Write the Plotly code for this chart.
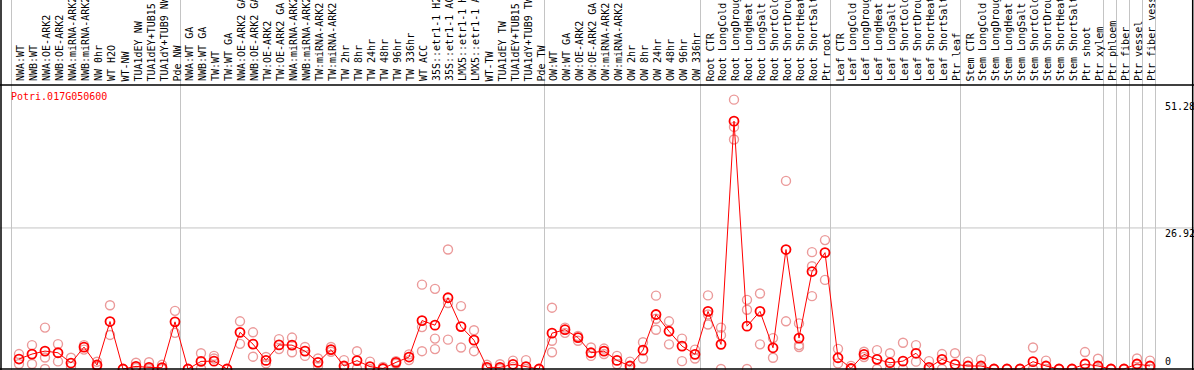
import plotly.graph_objects as go

gene = "Potri.017G050600"

categories = [
    "NWA:WT", "NWB:WT", "NWA:OE-ARK2", "NWB:OE-ARK2", "NWA:miRNA-ARK2", "NWB:miRNA-ARK2",
    "NW 0hr", "WT H2O", "WT-NW", "TUA1dEY NW", "TUA1dEY+TUB15 NW", "TUA1dY+TUB9 NW", "Pde NW",
    "NWA:WT GA", "NWB:WT GA", "TW:WT", "TW:WT GA", "NWA:OE-ARK2 GA", "NWB:OE-ARK2 GA",
    "TW:OE-ARK2", "TW:OE-ARK2 GA", "NWA:miRNA-ARK2 GA", "NWB:miRNA-ARK2 GA", "TW:miRNA-ARK2",
    "TW:miRNA-ARK2 GA", "TW 2hr", "TW 8hr", "TW 24hr", "TW 48hr", "TW 96hr", "TW 336hr",
    "WT ACC", "35S::etr1-1 H2O", "35S::etr1-1 ACC", "LMX5::etr1-1 H2O", "LMX5::etr1-1 ACC",
    "WT-TW", "TUA1dEY TW", "TUA1dEY+TUB15 TW", "TUA1dY+TUB9 TW", "Pde TW",
    "OW:WT", "OW:WT GA", "OW:OE-ARK2", "OW:OE-ARK2 GA", "OW:miRNA-ARK2", "OW:miRNA-ARK2 GA",
    "OW 2hr", "OW 8hr", "OW 24hr", "OW 48hr", "OW 96hr", "OW 336hr",
    "Root CTR", "Root LongCold", "Root LongDrought", "Root LongHeat", "Root LongSalt",
    "Root ShortCold", "Root ShortDrought", "Root ShortHeat", "Root ShortSalt", "Ptr root",
    "Leaf CTR", "Leaf LongCold", "Leaf LongDrought", "Leaf LongHeat", "Leaf LongSalt",
    "Leaf ShortCold", "Leaf ShortDrought", "Leaf ShortHeat", "Leaf ShortSalt", "Ptr leaf",
    "Stem CTR", "Stem LongCold", "Stem LongDrought", "Stem LongHeat", "Stem LongSalt",
    "Stem ShortCold", "Stem ShortDrought", "Stem ShortHeat", "Stem ShortSalt", "Ptr shoot",
    "Ptr xylem", "Ptr phloem", "Ptr fiber", "Ptr vessel", "Ptr fiber vessel",
]

mean_values = [
    1.9, 2.85, 3.42, 3.1, 1.14, 4.18, 0.76, 9.06, 0.0, 0.5, 0.3, 0.25, 9.0,
    0.0, 1.45, 1.5, 0.0, 7.0, 4.75, 1.64, 4.6, 4.56, 3.42, 1.27, 3.7, 0.57, 1.6, 0.45,
    0.1, 1.27, 2.28, 9.24, 8.36, 13.6, 8.1, 5.5, 0.3, 0.3, 0.9, 0.45, 0.0,
    6.84, 7.5, 6.0, 3.1, 3.42, 1.64, 0.57, 3.6, 10.4, 7.2, 4.37, 2.8,
    11.0, 4.7, 47.3, 8.17, 11.0, 4.05, 22.8, 5.9, 18.6, 22.2,
    2.15, 0.1, 2.8, 1.84, 1.2, 1.5, 3.0, 0.3, 1.84, 0.9,
    0.57, 0.57, 0.0, 0.0, 0.0, 1.4, 0.57, 0.0, 0.0, 0.95,
    0.57, 0.0, 0.0, 0.95, 0.57,
]

rep1 = [
    2.85, 4.56, 7.9, 4.75, 2.15, 4.56, 1.39, 12.16, 0.0, 1.2, 1.3, 0.8, 11.1,
    0.0, 3.0, 2.5, 0.0, 9.1, 7.0, 2.3, 5.7, 6.0, 4.2, 2.0, 4.2, 1.7, 3.4, 1.4,
    0.4, 1.5, 2.8, 16.1, 15.3, 22.8, 12.0, 7.4, 0.8, 0.9, 1.6, 1.7, 0.0,
    11.7, 7.9, 6.3, 4.1, 3.9, 2.5, 1.4, 5.1, 14.0, 9.1, 5.8, 3.7,
    14.05, 7.9, 51.4, 13.2, 14.4, 5.9, 35.9, 8.7, 22.3, 24.6,
    3.85, 0.6, 3.3, 3.6, 3.0, 5.0, 4.56, 1.5, 2.85, 3.0,
    1.4, 1.84, 0.0, 0.0, 0.0, 4.1, 1.6, 0.0, 0.0, 3.23,
    1.97, 0.0, 0.0, 2.0, 1.6,
]

rep2 = [
    0.95, 0.95, 2.2, 1.45, 0.45, 3.7, 0.44, 6.5, None, 0.2, 0.0, 0.0, 6.9,
    None, 0.1, 2.0, None, 4.8, 2.35, 1.07, 3.8, 3.2, 2.5, 0.57, 3.3, 0.0, 0.1, 0.0,
    0.0, 1.0, 1.7, 8.0, 5.8, 12.6, 4.1, 3.4, 0.0, 0.0, 0.4, 0.0, None,
    5.4, 6.9, 5.4, 2.5, 2.85, 0.9, 0.0, 2.0, 9.6, 4.7, 1.5, 2.0,
    10.4, 6.46, 46.2, 11.3, 4.7, 2.15, 9.1, 4.56, 19.6, 17.0,
    1.07, 0.0, 2.3, 0.0, 0.0, 0.0, 1.4, 0.0, 0.0, 0.0,
    0.0, 0.0, None, None, None, 0.0, 0.0, None, None, 0.0,
    0.0, None, None, 0.0, 0.0,
]

rep3 = [
    None, None, 0.0, None, None, None, None, None, None, None, None, None, None,
    None, None, None, None, None, None, None, None, None, None, None, None, None, None, None,
    None, None, None, 3.4, 3.8, 5.6, None, None, None, None, None, None, None,
    3.2, None, None, None, None, None, None, None, 7.5, None, None, None,
    8.5, 0.0, 43.8, 0.0, None, None, None, 4.2, 13.9, None,
    None, None, None, None, None, None, None, None, None, None,
    None, None, None, None, None, None, None, None, None, None,
    None, None, None, None, None,
]

group_starts = [0, 13, 41, 53, 63, 73, 84, 85, 86, 87, 88]
axis_labels = ["51.28", "26.92", "0"]
axis_label_values = [51.28, 26.92, 0.0]
grid_values = [26.92]

MONO = "DejaVu Sans Mono"
RED = "#ff0000"
PINK = "#eb9a9a"
GRAY = "#c4c4c4"

n = len(categories)
xs = list(range(n))

rx, ry = [], []
for reps in (rep1, rep2, rep3):
    for i, v in enumerate(reps):
        if v is not None:
            rx.append(i)
            ry.append(v)

fig = go.Figure()
fig.add_trace(go.Scatter(
    x=rx, y=ry, mode="markers",
    marker=dict(symbol="circle-open", size=9, color=PINK, line=dict(width=1.4, color=PINK)),
    hoverinfo="skip", showlegend=False,
))
fig.add_trace(go.Scatter(
    x=xs, y=mean_values, mode="lines+markers",
    line=dict(color=RED, width=1),
    marker=dict(symbol="circle-open", size=9, color=RED, line=dict(width=1.8, color=RED)),
    showlegend=False,
))

W, H = 1194, 370
px_per_cat = 13.0
x0_px = 19.0
xr = [-x0_px / px_per_cat, (W - x0_px) / px_per_cat]
y_zero_px = 369.0
px_per_unit = 5.24
yr = [-(H - y_zero_px) / px_per_unit, y_zero_px / px_per_unit]

shapes = []
for b in group_starts:
    shapes.append(dict(type="line", xref="x", yref="paper", x0=b - 7.5 / 13, x1=b - 7.5 / 13,
                       y0=0, y1=1, line=dict(color=GRAY, width=1), layer="below"))
for g in grid_values:
    shapes.append(dict(type="line", xref="paper", yref="y", x0=0, x1=1, y0=g, y1=g,
                       line=dict(color=GRAY, width=1), layer="below"))
top_line = 1 - 85.0 / H
shapes.append(dict(type="line", xref="paper", yref="paper", x0=0, x1=1, y0=top_line, y1=top_line,
                   line=dict(color="black", width=1.3)))
shapes.append(dict(type="line", xref="paper", yref="y", x0=0, x1=1, y0=0, y1=0,
                   line=dict(color="black", width=1.5)))
shapes.append(dict(type="line", xref="paper", yref="paper", x0=1.0 / W, x1=1.0 / W, y0=0, y1=1,
                   line=dict(color="black", width=1.5)))
shapes.append(dict(type="line", xref="paper", yref="paper", x0=1192.7 / W, x1=1192.7 / W, y0=0, y1=1,
                   line=dict(color="black", width=1.5)))

annotations = []
label_bottom = 1 - 83.5 / H
for i, c in enumerate(categories):
    annotations.append(dict(
        x=i, y=label_bottom, xref="x", yref="paper", text=c, textangle=-90,
        showarrow=False, xanchor="center", yanchor="bottom", xshift=1.5,
        font=dict(family=MONO, size=10, color="black"),
    ))
annotations.append(dict(
    x=9.0 / W, y=1 - 96.7 / H, xref="paper", yref="paper", text=gene, showarrow=False,
    xanchor="left", yanchor="middle", font=dict(family=MONO, size=10, color=RED),
))
for lab, v in zip(axis_labels, axis_label_values):
    annotations.append(dict(
        x=1163.0 / W, y=v, xref="paper", yref="y", text=lab, showarrow=False,
        xanchor="left", yanchor="bottom" if v == 0 else "top",
        yshift=0 if v == 0 else 1.5,
        font=dict(family=MONO, size=10, color="black"),
    ))

fig.update_layout(
    width=W, height=H,
    margin=dict(l=0, r=0, t=0, b=0),
    paper_bgcolor="white", plot_bgcolor="white",
    xaxis=dict(range=xr, visible=False, showgrid=False, zeroline=False, fixedrange=True),
    yaxis=dict(range=yr, visible=False, showgrid=False, zeroline=False, fixedrange=True),
    shapes=shapes, annotations=annotations,
    showlegend=False,
)

fig.write_html(
    "out.html",
    config={"displayModeBar": False},
    post_script="document.body.style.margin='0';document.body.style.overflow='hidden';",
)
